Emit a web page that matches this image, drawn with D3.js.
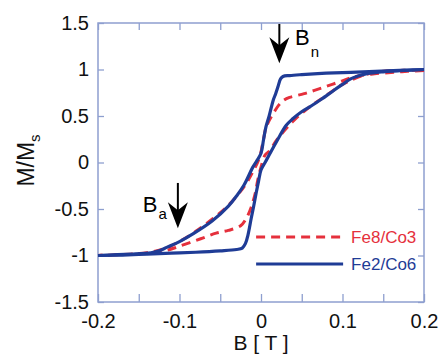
<!DOCTYPE html>
<html>
<head>
<meta charset="utf-8">
<script src="https://cdn.jsdelivr.net/npm/d3@7"></script>
<style>
  body { margin: 0; background: #fff; }
  text { font-family: "Liberation Sans", Arial, sans-serif; }
</style>
</head>
<body>
<div id="chart"></div>
<script>
// hysteresis branches, [B (T), M/Ms]
const blueDescending = [
  [0.2, 1.0], [0.17, 0.99], [0.14, 0.98], [0.11, 0.97], [0.08, 0.96], [0.05, 0.945],
  [0.035, 0.935], [0.027, 0.925], [0.024, 0.9], [0.021, 0.82], [0.018, 0.74], [0.015, 0.67],
  [0.01, 0.5], [0.006, 0.38], [0.003, 0.24], [0, 0.1], [-0.005, 0.02], [-0.01, -0.05],
  [-0.021, -0.245], [-0.03, -0.36], [-0.04, -0.47], [-0.06, -0.63], [-0.082, -0.76],
  [-0.1, -0.85], [-0.115, -0.91], [-0.125, -0.95], [-0.135, -0.97], [-0.16, -0.985], [-0.2, -1.0]
];
const blueAscending = [
  [-0.2, -1.0], [-0.17, -0.995], [-0.14, -0.985], [-0.11, -0.975], [-0.08, -0.965], [-0.05, -0.95],
  [-0.03, -0.935], [-0.023, -0.92], [-0.019, -0.87], [-0.016, -0.78], [-0.012, -0.6], [-0.009, -0.47],
  [-0.006, -0.33], [-0.003, -0.2], [0, -0.08], [0.005, 0.0], [0.01, 0.08], [0.02, 0.24],
  [0.031, 0.4], [0.039, 0.47], [0.049, 0.54], [0.062, 0.61], [0.074, 0.68], [0.09, 0.78],
  [0.1, 0.84], [0.11, 0.9], [0.119, 0.93], [0.13, 0.955], [0.15, 0.975], [0.175, 0.99], [0.2, 1.0]
];
const redDescending = [
  [0.2, 0.99], [0.18, 0.98], [0.163, 0.97], [0.135, 0.95], [0.114, 0.92], [0.094, 0.86],
  [0.074, 0.8], [0.053, 0.74], [0.035, 0.7], [0.028, 0.67], [0.022, 0.62], [0.016, 0.54],
  [0.01, 0.45], [0.006, 0.37], [0.002, 0.2], [-0.002, 0.05], [-0.01, -0.1], [-0.02, -0.25],
  [-0.04, -0.46], [-0.06, -0.61], [-0.08, -0.74], [-0.1, -0.85], [-0.12, -0.93],
  [-0.14, -0.97], [-0.17, -0.99], [-0.2, -1.0]
];
const redAscending = [
  [-0.2, -1.0], [-0.17, -0.99], [-0.14, -0.975], [-0.12, -0.955], [-0.1, -0.9], [-0.074, -0.82],
  [-0.055, -0.76], [-0.04, -0.73], [-0.025, -0.68], [-0.018, -0.6], [-0.012, -0.48],
  [-0.007, -0.33], [-0.004, -0.19], [0, -0.05], [0.005, 0.08], [0.01, 0.12], [0.02, 0.25],
  [0.04, 0.45], [0.06, 0.6], [0.08, 0.72], [0.1, 0.84], [0.12, 0.92], [0.14, 0.97],
  [0.17, 0.99], [0.2, 0.99]
];

const xTicks = [-0.2, -0.15, -0.1, -0.05, 0, 0.05, 0.1, 0.15, 0.2];
const yTicks = [-1.5, -1, -0.5, 0, 0.5, 1, 1.5];
const seriesNames = ["Fe8/Co3", "Fe2/Co6"];

const blue = "#1f3c96";
const red = "#e5303c";
const axisColor = "#8e9fcf";

const W = 441, H = 358;
const margin = { top: 23, right: 17, bottom: 56, left: 98 };
const width = W - margin.left - margin.right;
const height = H - margin.top - margin.bottom;

const svg = d3.select("#chart").append("svg")
  .attr("width", W)
  .attr("height", H);

const g = svg.append("g")
  .attr("transform", `translate(${margin.left},${margin.top})`);

const x = d3.scaleLinear().domain([-0.2, 0.2]).range([0, width]);
const y = d3.scaleLinear().domain([-1.5, 1.5]).range([height, 0]);

const fmt = d => String(Math.round(d * 100) / 100);

// axes
g.append("g")
  .attr("transform", `translate(0,${height})`)
  .call(d3.axisBottom(x).tickValues(xTicks).tickSizeInner(-8).tickSizeOuter(0).tickPadding(12)
    .tickFormat(d => Math.abs(Math.round(d * 100)) % 10 === 0 ? fmt(d) : ""))
  .call(styleAxis);

g.append("g")
  .call(d3.axisTop(x).tickValues(xTicks).tickSizeInner(-7).tickSizeOuter(0).tickFormat(""))
  .call(styleAxis);

g.append("g")
  .call(d3.axisLeft(y).tickValues(yTicks).tickSizeInner(-6).tickSizeOuter(0).tickPadding(9)
    .tickFormat(fmt))
  .call(styleAxis);

g.append("g")
  .attr("transform", `translate(${width},0)`)
  .call(d3.axisRight(y).tickValues(yTicks).tickSizeInner(-6).tickSizeOuter(0).tickFormat(""))
  .call(styleAxis);

function styleAxis(sel) {
  sel.select(".domain").remove();
  sel.selectAll(".tick line").attr("stroke", axisColor).attr("stroke-width", 1.3);
  sel.selectAll(".tick text")
    .attr("fill", "#111")
    .style("font-size", "20px")
    .style("font-family", "'Liberation Sans', Arial, sans-serif");
}

g.append("rect")
  .attr("width", width)
  .attr("height", height)
  .attr("fill", "none")
  .attr("stroke", axisColor)
  .attr("stroke-width", 1.5);

// curves
const line = d3.line()
  .x(d => x(d[0]))
  .y(d => y(d[1]))
  .curve(d3.curveCatmullRom.alpha(0.5));

g.append("path")
  .datum(redDescending.concat(redAscending.slice(1)))
  .attr("d", line)
  .attr("fill", "none")
  .attr("stroke", red)
  .attr("stroke-width", 3)
  .attr("stroke-dasharray", "9,6");

[blueDescending, blueAscending].forEach(branch => {
  g.append("path")
    .datum(branch)
    .attr("d", line)
    .attr("fill", "none")
    .attr("stroke", blue)
    .attr("stroke-width", 3.2)
    .attr("stroke-linejoin", "round");
});

// arrows
function arrow(b, m0, m1) {
  const ax = x(b), y0 = y(m0), tip = y(m1);
  g.append("line")
    .attr("x1", ax).attr("x2", ax)
    .attr("y1", y0).attr("y2", tip - 15)
    .attr("stroke", "#000").attr("stroke-width", 2);
  g.append("path")
    .attr("d", `M${ax},${tip} L${ax - 10},${tip - 26} L${ax},${tip - 18} L${ax + 10},${tip - 26} Z`)
    .attr("fill", "#000");
}
arrow(0.0225, 1.49, 1.067);
arrow(-0.102, -0.22, -0.707);

function bLabel(px, py, sub, drop) {
  const t = g.append("text")
    .attr("x", px).attr("y", py)
    .attr("fill", "#000")
    .style("font-size", "22px")
    .text("B");
  t.append("tspan")
    .attr("dy", drop)
    .attr("dx", 1)
    .style("font-size", "15px")
    .text(sub);
}
bLabel(x(0.0417), y(1.26), "n", 12);
bLabel(x(-0.145), y(-0.53), "a", 7);

// legend
const legend = g.append("g").attr("transform", `translate(${x(-0.006)},${y(-0.8)})`);
seriesNames.forEach((name, i) => {
  const col = i === 0 ? red : blue;
  legend.append("line")
    .attr("x1", 0).attr("x2", 87)
    .attr("y1", i * 27).attr("y2", i * 27)
    .attr("stroke", col)
    .attr("stroke-width", 3)
    .attr("stroke-dasharray", i === 0 ? "9,6" : null);
  legend.append("text")
    .attr("x", 95)
    .attr("y", i * 27 + 6)
    .attr("fill", col)
    .style("font-size", "17px")
    .text(name);
});

// axis titles
svg.append("text")
  .attr("x", margin.left + width / 2)
  .attr("y", 350)
  .attr("text-anchor", "middle")
  .attr("fill", "#111")
  .style("font-size", "21px")
  .text("B [ T ]");

const yt = svg.append("text")
  .attr("transform", `translate(34,${margin.top + height / 2 - 2}) rotate(-90)`)
  .attr("text-anchor", "middle")
  .attr("fill", "#111")
  .style("font-size", "23px")
  .text("M/M");
yt.append("tspan")
  .attr("dy", 6)
  .style("font-size", "15px")
  .text("s");
</script>
</body>
</html>
